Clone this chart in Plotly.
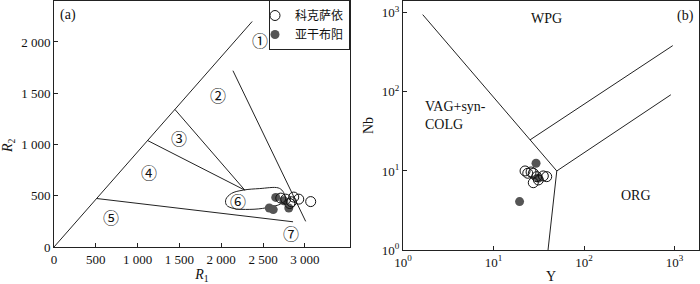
import numpy as np
import plotly.graph_objects as go

# ---------------- Panel (a): R1-R2 diagram ----------------
a_open_R1 = [3070, 2927, 2867, 2712, 2772, 2840, 2820]
a_open_R2 = [443, 467, 487, 477, 467, 441, 424]
a_fill_R1 = [2652, 2575, 2622, 2808, 2748]
a_fill_R2 = [484, 380, 365, 380, 451]

# boundary lines (R1 pairs, R2 pairs)
a_lines_R1 = [[0, 2370], [2140, 3010], [1446, 2282], [1119, 2282], [510, 2859]]
a_lines_R2 = [[0, 2200], [1720, 250], [1342, 555], [1039, 555], [473, 246]]

# field 6 outline
a_field6_R1 = [2262, 2461, 2680, 2736, 2760, 2724, 2541, 2342, 2142, 2063, 2055, 2123, 2262]
a_field6_R2 = [555, 570, 577, 545, 487, 428, 383, 367, 377, 409, 464, 523, 555]

a_field_labels = ["①", "②", "③", "④", "⑤", "⑥", "⑦"]
a_field_R1 = [2461, 1963, 1493, 1135, 681, 2202, 2832]
a_field_R2 = [2009, 1470, 1049, 718, 279, 435, 124]

a_ticks = [0, 500, 1000, 1500, 2000, 2500, 3000]
a_xticktext = ["0", "500", "1 000", "1 500", "2 000", "2 500", "3 000"]
a_yticks = [0, 500, 1000, 1500, 2000]
a_yticktext = ["0", "500", "1 000", "1 500", "2 000"]

# ---------------- Panel (b): Nb-Y diagram ----------------
b_open_Y = [22.3, 23.9, 26.0, 27.5, 30.0, 35.5, 38.7, 27.5, 31.3]
b_open_Nb = [10.0, 9.35, 9.7, 9.35, 8.47, 8.65, 8.47, 7.1, 7.7]
b_fill_Y = [29.5, 19.4, 31.3]
b_fill_Nb = [12.5, 4.1, 8.1]

b_lines_Y = [[1.65, 50], [50, 40], [50, 910], [25.3, 955]]
b_lines_Nb = [[950, 10], [10, 1], [10, 92], [24.7, 385]]

b_field_labels = ["WPG", "VAG+syn-<br>COLG", "ORG"]
b_field_Y = [38.7, 1.68, 375]
b_field_Nb = [857, 50, 4.83]

b_ticks = [1, 10, 100, 1000]
b_ticktext = ["10<sup>0</sup>", "10<sup>1</sup>", "10<sup>2</sup>", "10<sup>3</sup>"]

FONT = "Liberation Serif, Times New Roman, Noto Sans CJK SC, serif"
LINE = "#222222"
FILLC = "#555555"

fig = go.Figure()

# panel a lines
for xs, ys in zip(a_lines_R1, a_lines_R2):
    fig.add_trace(go.Scatter(x=xs, y=ys, mode="lines", line=dict(color=LINE, width=1),
                             showlegend=False, hoverinfo="skip", xaxis="x", yaxis="y"))
fig.add_trace(go.Scatter(x=a_field6_R1, y=a_field6_R2, mode="lines",
                         line=dict(color=LINE, width=1, shape="spline", smoothing=1.0),
                         showlegend=False, hoverinfo="skip", xaxis="x", yaxis="y"))
fig.add_trace(go.Scatter(x=a_fill_R1, y=a_fill_R2, mode="markers", name="亚干布阳",
                         marker=dict(symbol="circle", size=9, color=FILLC), xaxis="x", yaxis="y",
                         legendrank=2))
fig.add_trace(go.Scatter(x=a_open_R1, y=a_open_R2, mode="markers", name="科克萨依",
                         marker=dict(symbol="circle-open", size=10, color="#111111", line=dict(width=1)),
                         xaxis="x", yaxis="y", legendrank=1))

# panel b lines
for xs, ys in zip(b_lines_Y, b_lines_Nb):
    fig.add_trace(go.Scatter(x=xs, y=ys, mode="lines", line=dict(color=LINE, width=1),
                             showlegend=False, hoverinfo="skip", xaxis="x2", yaxis="y2"))
fig.add_trace(go.Scatter(x=b_fill_Y, y=b_fill_Nb, mode="markers", showlegend=False,
                         marker=dict(symbol="circle", size=9, color=FILLC), xaxis="x2", yaxis="y2"))
fig.add_trace(go.Scatter(x=b_open_Y, y=b_open_Nb, mode="markers", showlegend=False,
                         marker=dict(symbol="circle-open", size=10, color="#111111", line=dict(width=1)),
                         xaxis="x2", yaxis="y2"))

annotations = []
for t, x, y in zip(a_field_labels, a_field_R1, a_field_R2):
    annotations.append(dict(text=t, x=x, y=y, xref="x", yref="y", showarrow=False,
                            font=dict(size=16, family=FONT, color="#111")))
for t, x, y in zip(b_field_labels, b_field_Y, b_field_Nb):
    annotations.append(dict(text=t, x=np.log10(x), y=np.log10(y), xref="x2", yref="y2",
                            showarrow=False, align="left",
                            xanchor="left" if "VAG" in t else "center",
                            font=dict(size=14, family=FONT, color="#111")))
annotations.append(dict(text="(a)", x=68 / 700, y=(284 - 15) / 284, xref="paper", yref="paper",
                        xanchor="center", yanchor="middle", showarrow=False,
                        font=dict(size=14, family=FONT, color="#111")))
annotations.append(dict(text="(b)", x=685 / 700, y=(284 - 16) / 284, xref="paper", yref="paper",
                        xanchor="center", yanchor="middle", showarrow=False,
                        font=dict(size=14, family=FONT, color="#111")))
annotations.append(dict(text="<i>R</i><sub>2</sub>", x=8 / 700, y=(284 - 146) / 284, xref="paper",
                        yref="paper", xanchor="center", yanchor="middle", showarrow=False,
                        textangle=-90, font=dict(size=14, family=FONT, color="#111")))

axcommon = dict(showline=True, linecolor="#222", linewidth=1, mirror=True, ticks="inside",
                ticklen=4, tickcolor="#222", showgrid=False, zeroline=False, automargin=False,
                tickfont=dict(size=13, family=FONT, color="#111"))

fig.update_layout(
    width=700, height=284,
    margin=dict(l=0, r=0, t=0, b=0),
    plot_bgcolor="white", paper_bgcolor="white",
    font=dict(family=FONT, color="#111"),
    showlegend=True,
    legend=dict(x=0.5, y=1.0, xanchor="right", yanchor="top", bgcolor="white",
                bordercolor="#222", borderwidth=1, font=dict(size=12, family=FONT),
                tracegroupgap=0, itemwidth=30, indentation=-15),
    xaxis=dict(domain=[54 / 700, 350 / 700], range=[0, 3540], tickvals=a_ticks,
               ticktext=a_xticktext, anchor="y",
               title=dict(text="<i>R</i><sub>1</sub>", standoff=2, font=dict(size=14)), **axcommon),
    yaxis=dict(domain=[(284 - 247) / 284, 0.9965], range=[0, 2400], tickvals=a_yticks,
               ticktext=a_yticktext, anchor="x", **axcommon),
    xaxis2=dict(domain=[403 / 700, 699 / 700], type="log", range=[0, 3.27], tickvals=b_ticks,
                ticktext=b_ticktext, anchor="y2",
                title=dict(text="Y", standoff=2, font=dict(size=14)), **axcommon),
    yaxis2=dict(domain=[(284 - 250) / 284, 0.9965], type="log", range=[0, 3.15], tickvals=b_ticks,
                ticktext=b_ticktext, anchor="x2",
                title=dict(text="Nb", standoff=4, font=dict(size=14)), **axcommon),
    annotations=annotations,
)

fig.write_html("out.html", post_script="document.body.style.margin='0';",
               config={"displayModeBar": False})
